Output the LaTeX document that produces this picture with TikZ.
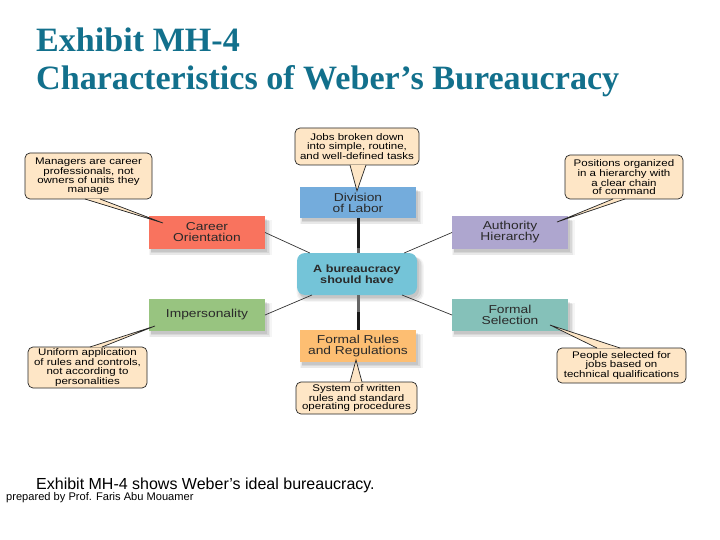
\documentclass[tikz,border=0pt]{standalone}
\usepackage{fontspec}
\setmainfont{Liberation Sans}
\newfontfamily\serifbf{Liberation Serif}
\newfontfamily\widesans{Liberation Sans}[FakeStretch=1.2]
\usetikzlibrary{shadows,calc}
\definecolor{titlecol}{HTML}{12708C}
\definecolor{cream}{HTML}{FEE6C6}
\definecolor{careerc}{HTML}{F9735E}
\definecolor{divc}{HTML}{74ACDC}
\definecolor{authc}{HTML}{AEA6CF}
\definecolor{centerc}{HTML}{74C4D8}
\definecolor{impc}{HTML}{98C480}
\definecolor{rulesc}{HTML}{FDBE72}
\definecolor{selc}{HTML}{85C1B9}
\definecolor{inkc}{HTML}{2A2A2A}
\tikzset{
  softshadow/.style={
    general shadow={shadow xshift=3pt,shadow yshift=-5pt,shadow scale=1.06,fill=black,opacity=.04},
    general shadow={shadow xshift=3pt,shadow yshift=-5pt,shadow scale=1.04,fill=black,opacity=.05},
    general shadow={shadow xshift=3pt,shadow yshift=-4pt,shadow scale=1.02,fill=black,opacity=.07},
    general shadow={shadow xshift=2pt,shadow yshift=-3pt,fill=black,opacity=.08}},
  topic/.style={inner sep=0pt,outer sep=0pt,align=center,text=inkc,font=\widesans\fontsize{11.5}{11}\selectfont,softshadow},
  note/.style={draw=black!85,line width=.7pt,fill=cream,rounded corners=5pt,inner sep=0pt,outer sep=0pt,
     align=center,text=black,font=\widesans\fontsize{9.6}{8.6}\selectfont},
  link/.style={draw=black!80,line width=.7pt},
  stem/.style={line width=3pt,black!90},
  stemgrey/.style={line width=3pt,black!60},
  tailfill/.style={fill=cream,draw=none},
  tailline/.style={draw=black!85,line width=.7pt},
  titletext/.style={anchor=west,inner sep=0pt,text=titlecol,font=\serifbf\bfseries\fontsize{34.1}{36}\selectfont},
}
\newcommand{\boxat}[7]{%
  \node[topic,fill=#2,minimum width=#5 pt - #3 pt,minimum height=#6 pt - #4 pt] (#1) at ({(#3+#5)/2},{(#4+#6)/2}) {#7};}
\newcommand{\noteat}[6]{%
  \node[note,minimum width=#4 pt - #2 pt,minimum height=#5 pt - #3 pt] (#1) at ({(#2+#4)/2},{(#3+#5)/2}) {#6};}
\newcommand{\tailof}[4]{%
  \coordinate (#1a) at ($(#1.#4)+(#2,0)$);
  \coordinate (#1b) at ($(#1.#4)+(#3,0)$);
  \fill[tailfill] (#1a) -- (#1tip) -- (#1b) -- cycle;
  \draw[tailline] (#1a) -- (#1tip) -- (#1b);}
\begin{document}
\begin{tikzpicture}[x=1pt,y=-1pt]
\useasboundingbox[fill=white] (0,0) rectangle (720,540);

\node[titletext] (t1) at (36,40) {Exhibit MH-4};
\node[titletext] (t2) at (36,81) {Characteristics of Weber’s Bureaucracy};

% topic boxes
\boxat{career}{careerc}{149}{216}{265}{249}{Career\\Orientation}
\boxat{division}{divc}{300}{187}{416}{218}{Division\\of Labor}
\boxat{authority}{authc}{452}{216}{568}{249}{Authority\\Hierarchy}
\boxat{imperson}{impc}{149}{299}{265}{331}{Impersonality}
\boxat{rules}{rulesc}{300}{330}{416}{362}{Formal Rules\\and Regulations}
\boxat{selection}{selc}{452}{299}{568}{331}{Formal\\Selection}
\node[topic,fill=centerc,rounded corners=8pt,minimum width=120pt,minimum height=42pt,font=\widesans\bfseries\fontsize{10.5}{10.5}\selectfont] (center) at (357,274) {A bureaucracy\\should have};

% connectors
\draw[link] (career.east) -- (center.156);
\draw[link] (authority.west) -- (center.24);
\draw[link] (imperson.east) -- (center.205);
\draw[link] (selection.west) -- (center.335);
\draw[stem] (division.south) -- (division.south |- center.north);
\draw[stemgrey] ($(division.south |- center.north)+(0,-5)$) -- (division.south |- center.north);
\draw[stem] (rules.north |- center.south) -- (rules.north);
\draw[stemgrey] (rules.north |- center.south) -- ($(rules.north |- center.south)+(0,17)$);

% callouts
\noteat{mgr}{25}{153}{152}{199}{Managers are career\\professionals, not\\owners of units they\\manage}
\noteat{jobs}{295}{128}{419}{165}{Jobs broken down\\into simple, routine,\\and well-defined tasks}
\noteat{pos}{565}{155}{683}{199}{Positions organized\\in a hierarchy with\\a clear chain\\of command}
\noteat{uni}{28}{347}{147}{388}{Uniform application\\of rules and controls,\\not according to\\personalities}
\noteat{sys}{296}{382}{417}{414}{System of written\\rules and standard\\operating procedures}
\noteat{peo}{557}{348}{686}{383}{People selected for\\jobs based on\\technical qualifications}

\coordinate (mgrtip) at (163,223);
\coordinate (jobstip) at (357,191);
\coordinate (postip) at (557,222);
\coordinate (unitip) at (155,326);
\coordinate (systip) at (356,360);
\coordinate (peotip) at (550,325);
\tailof{mgr}{-3.5}{11.5}{south}
\tailof{jobs}{-7}{9}{south}
\tailof{pos}{-11}{1}{south}
\tailof{uni}{2.5}{14.5}{north}
\tailof{sys}{-6.5}{5.5}{north}
\tailof{peo}{-24.5}{-1.5}{north}

\node[anchor=west,inner sep=0pt,font=\fontsize{16}{18}\selectfont] (cap) at (36,485) {Exhibit MH-4 shows Weber’s ideal bureaucracy.};
\node[anchor=west,inner sep=0pt,font=\fontsize{11.1}{12}\selectfont] (prep) at (6,498) {prepared by Prof. Faris Abu Mouamer};
\end{tikzpicture}
\end{document}
